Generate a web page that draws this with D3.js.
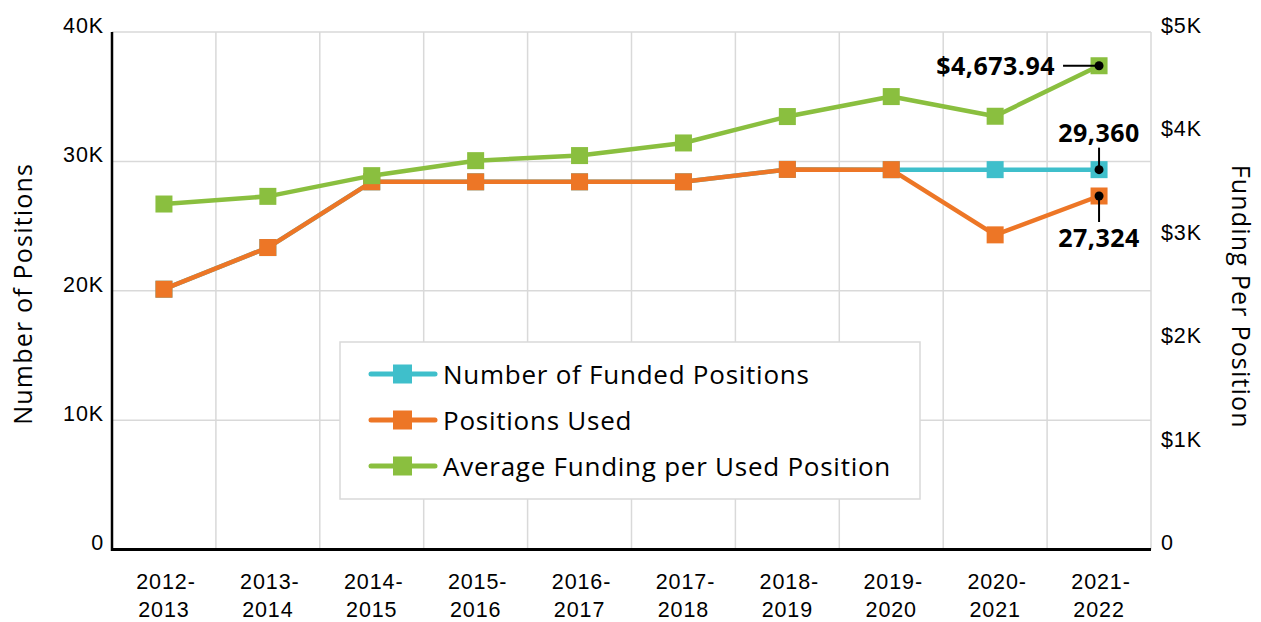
<!DOCTYPE html>
<html>
<head>
<meta charset="utf-8">
<script src="https://cdn.jsdelivr.net/npm/d3@7"></script>
<style>
  body { margin: 0; background: #fff; }
  svg { display: block; font-family: "Open Sans", sans-serif; }
</style>
</head>
<body>
<svg id="chart" width="1261" height="622"></svg>
<script>
// school years on the x axis
const years = ['2012-2013', '2013-2014', '2014-2015', '2015-2016', '2016-2017',
               '2017-2018', '2018-2019', '2019-2020', '2020-2021', '2021-2022'];
// left axis series (positions)
const fundedPositions = [20120, 23340, 28420, 28420, 28420, 28420, 29380, 29360, 29360, 29360];
const positionsUsed   = [20120, 23340, 28420, 28420, 28420, 28420, 29380, 29360, 24320, 27324];
// right axis series (dollars)
const avgFunding = [3338, 3412, 3612, 3757, 3806, 3928, 4183, 4376, 4186, 4673.94];

const leftTicks = [0, 10000, 20000, 30000, 40000];
const rightTicks = [0, 1000, 2000, 3000, 4000, 5000];

const seriesNames = ['Number of Funded Positions', 'Positions Used', 'Average Funding per Used Position'];
const colors = ['#3FBFCB', '#ED7626', '#8ABF3F'];

const svg = d3.select('#chart');
const plotL = 112, plotR = 1151, plotT = 32, plotB = 549.5;

const x = d3.scaleBand().domain(years).range([plotL, plotR]);
const cx = d => x(d) + x.bandwidth() / 2;
const yL = d3.scaleLinear().domain([0, 40000]).range([plotB, plotT]);
const yR = d3.scaleLinear().domain([0, 5000]).range([plotB, plotT]);

// grid
const grid = svg.append('g').attr('stroke', '#d9d9d9').attr('stroke-width', 1.5);
grid.selectAll('line.h').data(leftTicks.slice(1)).enter().append('line')
  .attr('x1', plotL).attr('x2', plotR)
  .attr('y1', d => yL(d)).attr('y2', d => yL(d));
grid.selectAll('line.v').data(years).enter().append('line')
  .attr('x1', d => x(d) + x.bandwidth()).attr('x2', d => x(d) + x.bandwidth())
  .attr('y1', plotT).attr('y2', plotB);

// axes
const tickStyle = g => {
  g.select('.domain').remove();
  g.selectAll('.tick line').remove();
  g.selectAll('.tick text')
    .attr('fill', '#000')
    .style('font-size', '21.5px')
    .style('letter-spacing', '0.9px')
    .attr('dy', '0.02em');
};

svg.append('g')
  .attr('transform', `translate(${plotL},0)`)
  .call(d3.axisLeft(yL).tickValues(leftTicks).tickSize(0).tickPadding(8)
    .tickFormat(d => d === 0 ? '0' : d / 1000 + 'K'))
  .call(tickStyle);

svg.append('g')
  .attr('transform', `translate(${plotR},0)`)
  .call(d3.axisRight(yR).tickValues(rightTicks).tickSize(0).tickPadding(10)
    .tickFormat(d => d === 0 ? '0' : '$' + d / 1000 + 'K'))
  .call(tickStyle);

const gx = svg.append('g')
  .attr('transform', `translate(0,${plotB})`)
  .call(d3.axisBottom(x).tickSize(0).tickFormat(''));
gx.select('.domain').remove();
gx.selectAll('.tick text').each(function(d) {
  const parts = d.split('-');
  const t = d3.select(this).attr('fill', '#000').attr('y', 0).attr('dy', null)
    .style('font-size', '21.5px').style('letter-spacing', '0.9px');
  t.append('tspan').attr('x', 2).attr('y', 39.5).text(parts[0] + '-');
  t.append('tspan').attr('x', 0).attr('y', 67.5).text(parts[1]);
});

svg.append('line').attr('x1', plotL).attr('x2', plotL).attr('y1', plotT).attr('y2', plotB + 1.5)
  .attr('stroke', '#000').attr('stroke-width', 2.5);
svg.append('line').attr('x1', plotL).attr('x2', plotR).attr('y1', plotB).attr('y2', plotB)
  .attr('stroke', '#000').attr('stroke-width', 3);

// axis titles
svg.append('text')
  .attr('transform', `translate(32,${(plotT + plotB) / 2 + 3}) rotate(-90)`)
  .attr('text-anchor', 'middle')
  .style('font-size', '25px').style('letter-spacing', '1.2px')
  .text('Number of Positions');
svg.append('text')
  .attr('transform', `translate(1232,${(plotT + plotB) / 2 + 6}) rotate(90)`)
  .attr('text-anchor', 'middle')
  .style('font-size', '25px').style('letter-spacing', '1.2px')
  .text('Funding Per Position');

// series
const series = [
  { values: fundedPositions, y: yL, color: colors[0] },
  { values: positionsUsed, y: yL, color: colors[1] },
  { values: avgFunding, y: yR, color: colors[2] }
];
const msize = 17;
series.forEach(s => {
  const pts = years.map((yr, i) => [cx(yr), s.y(s.values[i])]);
  svg.append('path')
    .attr('d', d3.line()(pts))
    .attr('fill', 'none')
    .attr('stroke', s.color)
    .attr('stroke-width', 4.5)
    .attr('stroke-linejoin', 'round');
  svg.append('g').selectAll('rect').data(pts).enter().append('rect')
    .attr('x', d => d[0] - msize / 2).attr('y', d => d[1] - msize / 2)
    .attr('width', msize).attr('height', msize)
    .attr('fill', s.color);
});

// annotations on the last year
const last = years.length - 1;
const lx = cx(years[last]);
const ann = svg.append('g');
const dot = (px, py) => ann.append('circle').attr('cx', px).attr('cy', py).attr('r', 4.5).attr('fill', '#000');
const seg = (x1, y1, x2, y2) => ann.append('line').attr('x1', x1).attr('y1', y1).attr('x2', x2).attr('y2', y2)
  .attr('stroke', '#000').attr('stroke-width', 2);
const label = (px, py, anchor, txt) => ann.append('text').attr('x', px).attr('y', py)
  .attr('text-anchor', anchor).style('font-size', '25px').style('font-weight', 700)
  .style('letter-spacing', '0.5px').text(txt);

const gy = yR(avgFunding[last]);
seg(lx - 36, gy, lx, gy); dot(lx, gy);
label(lx - 44, gy + 9, 'end', '$' + d3.format(',.2f')(avgFunding[last]));

const fy = yL(fundedPositions[last]);
seg(lx, fy - 22, lx, fy); dot(lx, fy);
label(lx, fy - 28, 'middle', d3.format(',')(fundedPositions[last]));

const uy = yL(positionsUsed[last]);
seg(lx, uy, lx, uy + 26); dot(lx, uy);
label(lx, uy + 51, 'middle', d3.format(',')(positionsUsed[last]));

// legend
const lg = svg.append('g').attr('transform', 'translate(340,342)');
lg.append('rect').attr('width', 580).attr('height', 157)
  .attr('fill', '#fff').attr('stroke', '#d9d9d9').attr('stroke-width', 1.5);
seriesNames.forEach((name, i) => {
  const ry = 32 + i * 46;
  lg.append('line').attr('x1', 31).attr('x2', 95).attr('y1', ry).attr('y2', ry)
    .attr('stroke', colors[i]).attr('stroke-width', 5).attr('stroke-linecap', 'round');
  lg.append('rect').attr('x', 53).attr('y', ry - 9.5).attr('width', 19).attr('height', 19).attr('fill', colors[i]);
  lg.append('text').attr('x', 103).attr('y', ry + 10)
    .style('font-size', '26px').style('letter-spacing', '0.75px').text(name);
});
</script>
</body>
</html>
